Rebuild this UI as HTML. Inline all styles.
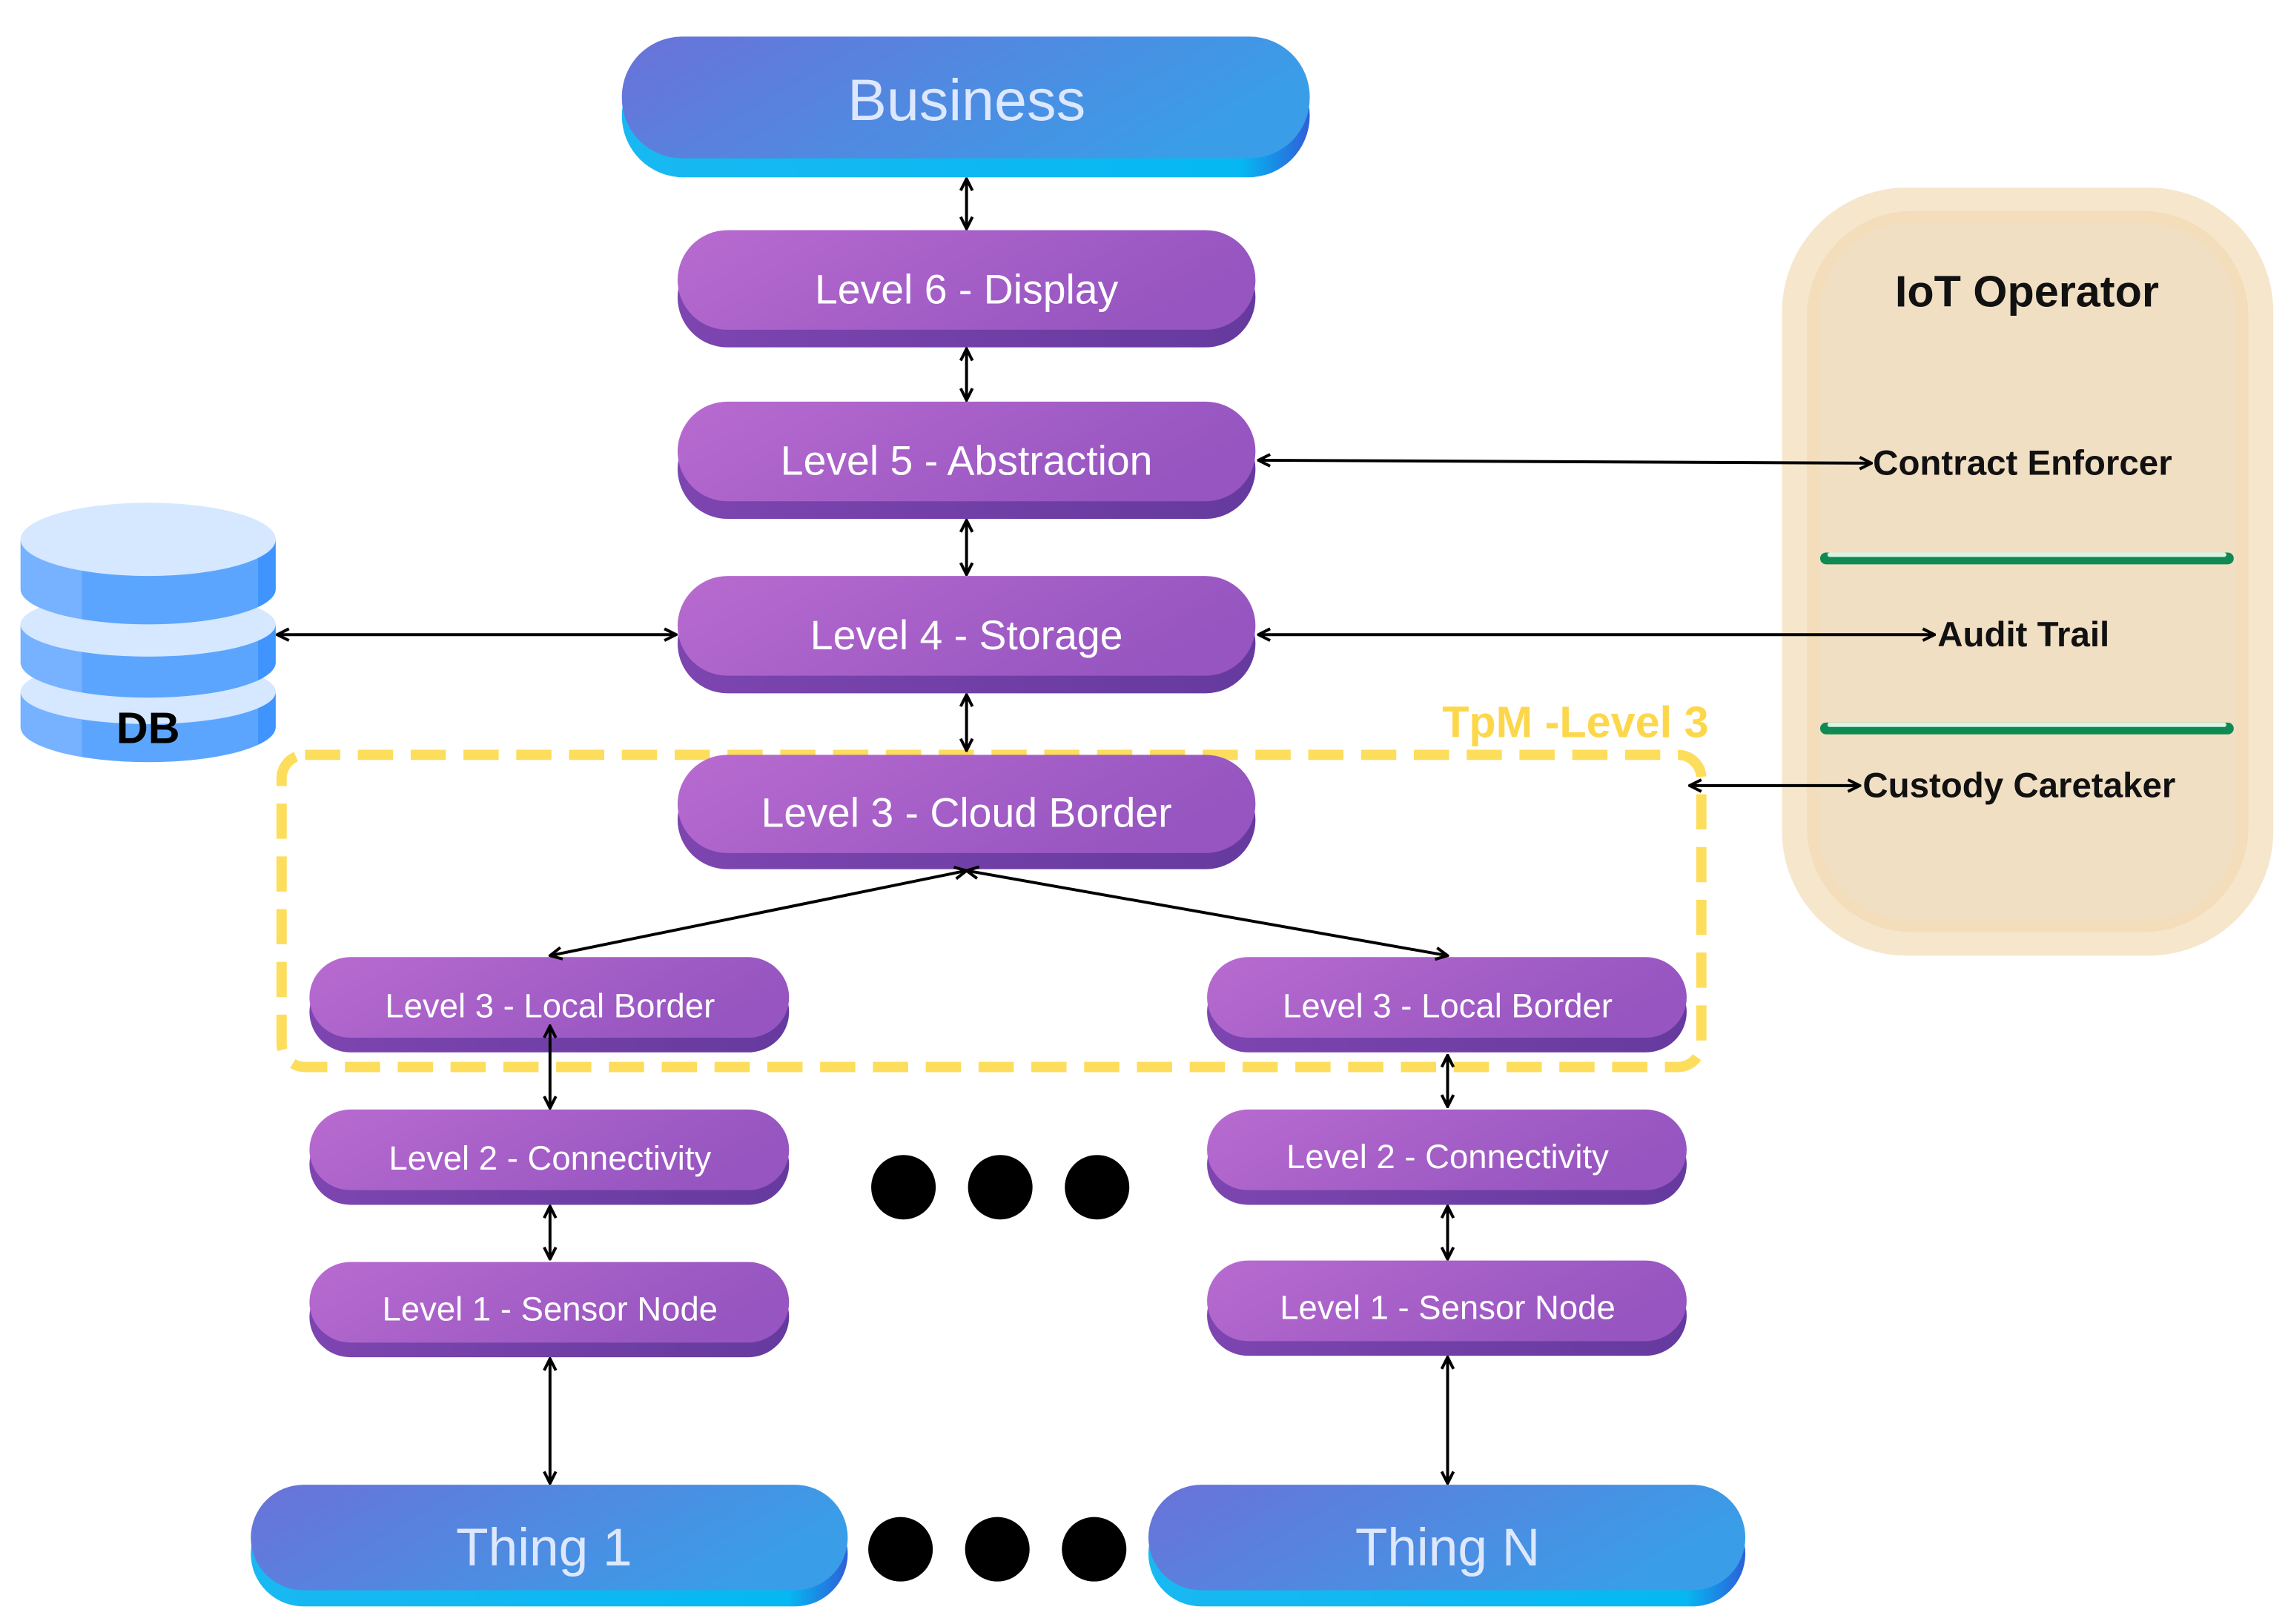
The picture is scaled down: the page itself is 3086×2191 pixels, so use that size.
<!DOCTYPE html>
<html><head><meta charset="utf-8"><style>html,body{margin:0;padding:0;background:#fff}svg{display:block}</style></head>
<body>
<svg width="3086" height="2191" viewBox="0 0 1560 1108" preserveAspectRatio="none" xmlns="http://www.w3.org/2000/svg" font-family="Liberation Sans, sans-serif">
<defs>
<linearGradient id="pu" x1="0" y1="0" x2="1" y2="0.3"><stop offset="0" stop-color="#b86bd0"/><stop offset="1" stop-color="#9655c0"/></linearGradient>
<linearGradient id="pud" x1="0" y1="0" x2="1" y2="0"><stop offset="0" stop-color="#7d45b0"/><stop offset="1" stop-color="#653a9e"/></linearGradient>
<linearGradient id="bl" x1="0" y1="0" x2="1" y2="0.3"><stop offset="0" stop-color="#6a72d8"/><stop offset="1" stop-color="#3a9de8"/></linearGradient>
<linearGradient id="bld" x1="0" y1="0" x2="1" y2="0"><stop offset="0" stop-color="#19b8f2"/><stop offset="0.9" stop-color="#05b8f2"/><stop offset="1" stop-color="#2f5fd8"/></linearGradient>
<linearGradient id="db" x1="0" y1="0" x2="1" y2="0"><stop offset="0" stop-color="#76b2ff"/><stop offset="0.24" stop-color="#76b2ff"/><stop offset="0.24" stop-color="#5ca5fe"/><stop offset="0.93" stop-color="#5ca5fe"/><stop offset="0.93" stop-color="#3f95fd"/><stop offset="1" stop-color="#3f95fd"/></linearGradient>
<marker id="ah" viewBox="0 0 10 10" refX="9" refY="5" markerWidth="5" markerHeight="5" orient="auto-start-reverse"><path d="M1,1 L9,5 L1,9" fill="none" stroke="#000" stroke-width="2"/></marker>
</defs>

<rect x="192" y="515" width="968" height="213" rx="16" fill="none" stroke="#fddd5c" stroke-width="7" stroke-dasharray="24 12"/>
<text x="1165" y="503" text-anchor="end" font-size="30" font-weight="bold" fill="#fcd74a">TpM -Level 3</text>

<rect x="424" y="37" width="469" height="84" rx="42" fill="url(#bld)"/>
<rect x="424" y="25" width="469" height="83" rx="41" fill="url(#bl)"/>
<text x="659" y="82" text-anchor="middle" font-size="40" fill="#dde8ff">Business</text>

<g>
<rect x="462" y="169" width="394" height="68" rx="34" fill="url(#pud)"/><rect x="462" y="157" width="394" height="68" rx="34" fill="url(#pu)"/>
<text x="659" y="207" text-anchor="middle" font-size="28" fill="#fff">Level 6 - Display</text>
<rect x="462" y="286" width="394" height="68" rx="34" fill="url(#pud)"/><rect x="462" y="274" width="394" height="68" rx="34" fill="url(#pu)"/>
<text x="659" y="324" text-anchor="middle" font-size="28" fill="#fff">Level 5 - Abstraction</text>
<rect x="462" y="405" width="394" height="68" rx="34" fill="url(#pud)"/><rect x="462" y="393" width="394" height="68" rx="34" fill="url(#pu)"/>
<text x="659" y="443" text-anchor="middle" font-size="28" fill="#fff">Level 4 - Storage</text>
<rect x="462" y="526" width="394" height="67" rx="34" fill="url(#pud)"/><rect x="462" y="515" width="394" height="67" rx="34" fill="url(#pu)"/>
<text x="659" y="564" text-anchor="middle" font-size="28" fill="#fff">Level 3 - Cloud Border</text>

<rect x="211" y="663" width="327" height="55" rx="28" fill="url(#pud)"/><rect x="211" y="653" width="327" height="55" rx="28" fill="url(#pu)"/>
<text x="375" y="694" text-anchor="middle" font-size="23" fill="#fff">Level 3 - Local Border</text>
<rect x="823" y="663" width="327" height="55" rx="28" fill="url(#pud)"/><rect x="823" y="653" width="327" height="55" rx="28" fill="url(#pu)"/>
<text x="987" y="694" text-anchor="middle" font-size="23" fill="#fff">Level 3 - Local Border</text>

<rect x="211" y="767" width="327" height="55" rx="28" fill="url(#pud)"/><rect x="211" y="757" width="327" height="55" rx="28" fill="url(#pu)"/>
<text x="375" y="798" text-anchor="middle" font-size="23" fill="#fff">Level 2 - Connectivity</text>
<rect x="823" y="767" width="327" height="55" rx="28" fill="url(#pud)"/><rect x="823" y="757" width="327" height="55" rx="28" fill="url(#pu)"/>
<text x="987" y="797" text-anchor="middle" font-size="23" fill="#fff">Level 2 - Connectivity</text>

<rect x="211" y="871" width="327" height="55" rx="28" fill="url(#pud)"/><rect x="211" y="861" width="327" height="55" rx="28" fill="url(#pu)"/>
<text x="375" y="901" text-anchor="middle" font-size="23" fill="#fff">Level 1 - Sensor Node</text>
<rect x="823" y="870" width="327" height="55" rx="28" fill="url(#pud)"/><rect x="823" y="860" width="327" height="55" rx="28" fill="url(#pu)"/>
<text x="987" y="900" text-anchor="middle" font-size="23" fill="#fff">Level 1 - Sensor Node</text>
</g>

<rect x="171" y="1024" width="407" height="72" rx="36" fill="url(#bld)"/><rect x="171" y="1013" width="407" height="72" rx="36" fill="url(#bl)"/>
<text x="371" y="1068" text-anchor="middle" font-size="36" fill="#dde8ff">Thing 1</text>
<rect x="783" y="1024" width="407" height="72" rx="36" fill="url(#bld)"/><rect x="783" y="1013" width="407" height="72" rx="36" fill="url(#bl)"/>
<text x="987" y="1068" text-anchor="middle" font-size="36" fill="#dde8ff">Thing N</text>

<g fill="#000">
<circle cx="616" cy="810" r="22"/><circle cx="682" cy="810" r="22"/><circle cx="748" cy="810" r="22"/>
<circle cx="614" cy="1057" r="22"/><circle cx="680" cy="1057" r="22"/><circle cx="746" cy="1057" r="22"/>
</g>

<!-- DB: three stacked layers, drawn bottom to top -->
<g>
<path d="M14,472 v24 a87,24 0 0 0 174,0 v-24 z" fill="url(#db)"/>
<ellipse cx="101" cy="472" rx="87" ry="22" fill="#d5e8ff"/>
<path d="M14,426 v26 a87,24 0 0 0 174,0 v-26 z" fill="url(#db)"/>
<ellipse cx="101" cy="426" rx="87" ry="22" fill="#d5e8ff"/>
<path d="M14,368 v34 a87,24 0 0 0 174,0 v-34 z" fill="url(#db)"/>
<ellipse cx="101" cy="368" rx="87" ry="25" fill="#d5e8ff"/>
<text x="101" y="507" text-anchor="middle" font-size="30" font-weight="bold" fill="#000">DB</text>
</g>

<rect x="1215" y="128" width="335" height="524" rx="85" fill="#f6e6cc"/>
<rect x="1232" y="144" width="301" height="492" rx="72" fill="#efd3a8" opacity="0.5"/>
<rect x="1240" y="152" width="285" height="476" rx="62" fill="#f1dfc3"/>
<text x="1382" y="209" text-anchor="middle" font-size="30" font-weight="bold" fill="#111">IoT Operator</text>
<rect x="1241" y="377" width="282" height="8" rx="4" fill="#0f8a52"/><rect x="1246" y="377" width="272" height="3" rx="1.5" fill="#d8f5e6"/>
<rect x="1241" y="493" width="282" height="8" rx="4" fill="#0f8a52"/><rect x="1246" y="493" width="272" height="3" rx="1.5" fill="#d8f5e6"/>
<text x="1277" y="324" font-size="24" font-weight="bold" fill="#111">Contract Enforcer</text>
<text x="1321" y="441" font-size="24" font-weight="bold" fill="#111">Audit Trail</text>
<text x="1270" y="544" font-size="24" font-weight="bold" fill="#111">Custody Caretaker</text>

<g stroke="#000" stroke-width="2" fill="none" marker-start="url(#ah)" marker-end="url(#ah)">
<line x1="659" y1="122" x2="659" y2="156"/>
<line x1="659" y1="238" x2="659" y2="273"/>
<line x1="659" y1="355" x2="659" y2="392"/>
<line x1="659" y1="474" x2="659" y2="512"/>
<line x1="659" y1="594" x2="375" y2="652"/>
<line x1="659" y1="594" x2="987" y2="652"/>
<line x1="375" y1="700" x2="375" y2="756"/>
<line x1="987" y1="720" x2="987" y2="755"/>
<line x1="375" y1="823" x2="375" y2="859"/>
<line x1="987" y1="823" x2="987" y2="859"/>
<line x1="375" y1="927" x2="375" y2="1012"/>
<line x1="987" y1="926" x2="987" y2="1012"/>
<line x1="189" y1="433" x2="461" y2="433"/>
<line x1="858" y1="314" x2="1276" y2="316"/>
<line x1="858" y1="433" x2="1319" y2="433"/>
<line x1="1152" y1="536" x2="1268" y2="536"/>
</g>
</svg>
</body></html>
